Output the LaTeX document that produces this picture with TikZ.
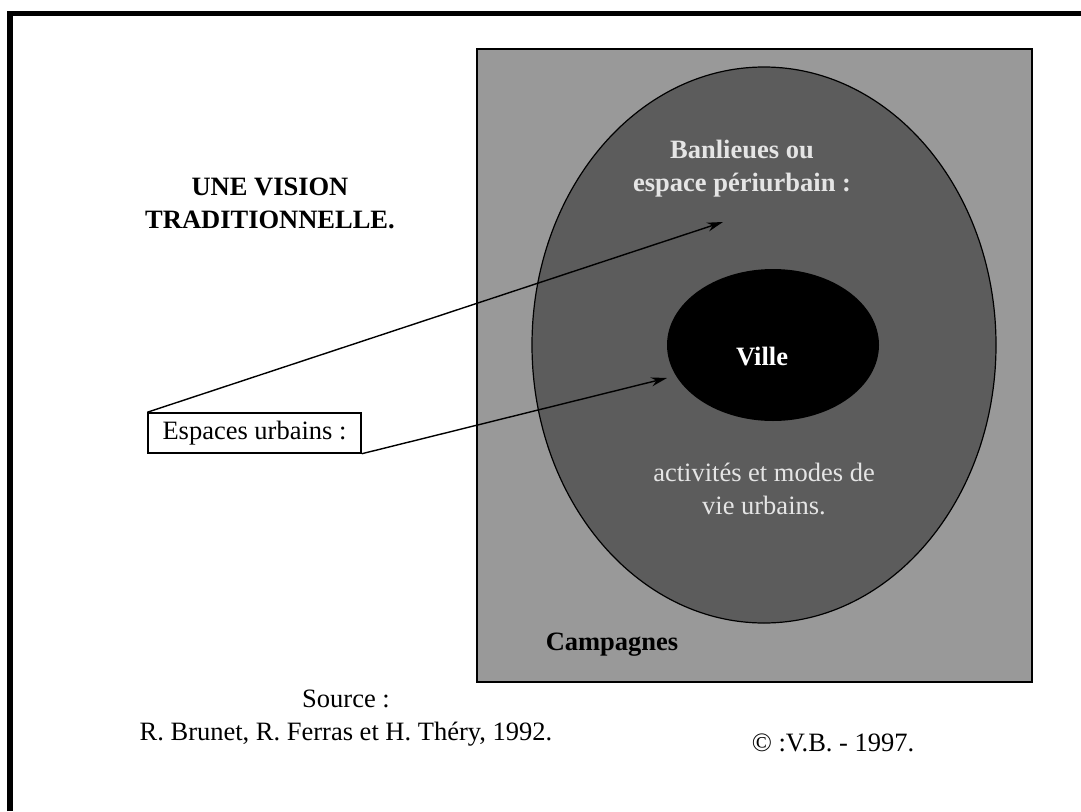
\documentclass[tikz,border=0pt]{standalone}
\usepackage{fontspec}
\setmainfont{Liberation Serif}
\usetikzlibrary{arrows.meta}
\definecolor{campagne}{gray}{0.60}
\definecolor{banlieue}{gray}{0.36}
\definecolor{pale}{gray}{0.90}
\tikzset{
  lbl/.style={font=\fontsize{26.5}{33}\selectfont, inner sep=0pt},
  lblbold/.style={lbl, font=\fontsize{26.5}{33}\selectfont\bfseries},
  pointer/.style={line width=1.4pt, -{Stealth[length=16pt,width=9pt]}},
}
\begin{document}
\begin{tikzpicture}[x=1pt,y=-1pt]
\useasboundingbox (0,0) rectangle (1081,811);
% frame
\draw[line width=5.5pt] (10,811) -- (10,13.5) -- (1081,13.5);
% map
\draw[line width=1.5pt, fill=campagne] (477,49) rectangle (1032,682);
\draw[line width=1.2pt, fill=banlieue] (764,345) ellipse [x radius=232pt, y radius=278pt];
\fill[black] (773,345) ellipse [x radius=106pt, y radius=76pt];
\node[lblbold, align=center] (titre) at (270,203) {UNE VISION\\TRADITIONNELLE.};
\node[lblbold, text=pale, align=center] (banlieues) at (742,169) {Banlieues ou\\espace périurbain :};
\node[lblbold, text=white] (ville) at (762,357) {Ville};
\node[lbl, text=pale, align=center] (activites) at (764,489) {activités et modes de\\vie urbains.};
\node[lblbold] (campagnes) at (612,645) {Campagnes};
\node[lbl, draw, line width=1.5pt, fill=white, minimum width=213pt, minimum height=40pt] (espaces) at (254.5,433) {Espaces urbains :};
\coordinate (banlieuetip) at (723,222);
\coordinate (villetip) at (667,378);
\draw[pointer] (espaces.north west) -- (banlieuetip);
\draw[pointer] (espaces.south east) -- (villetip);
\node[lbl, align=center] (source) at (346,718) {Source :\\R. Brunet, R. Ferras et H. Théry, 1992.};
\node[lbl] (copyright) at (833,743) {© :V.B. - 1997.};
\end{tikzpicture}
\end{document}
